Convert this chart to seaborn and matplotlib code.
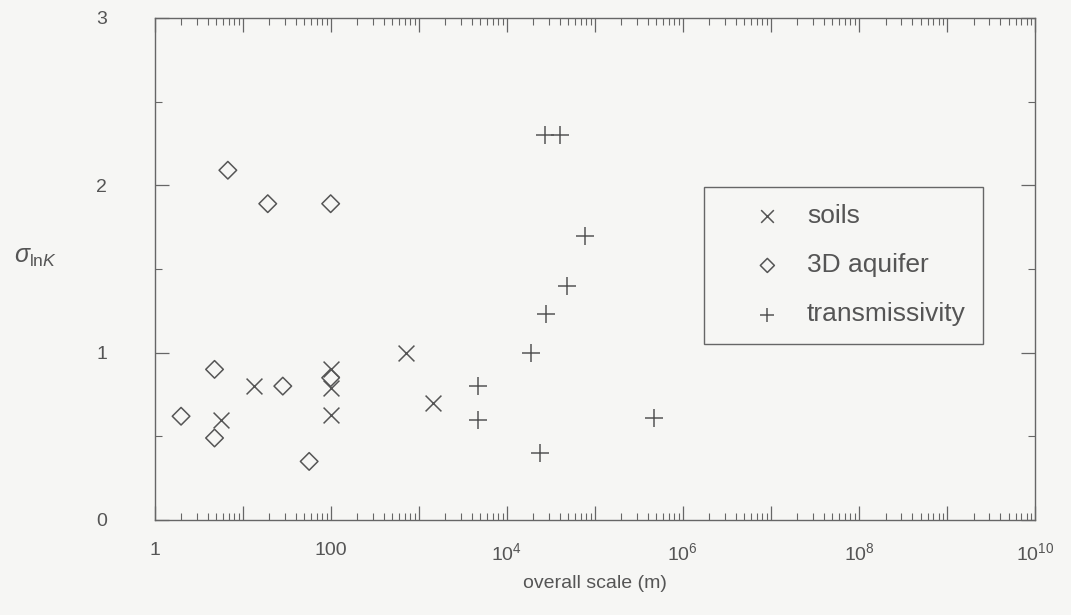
import matplotlib
matplotlib.use("Agg")
import matplotlib.pyplot as plt
import matplotlib.ticker as mticker
import seaborn as sns
import pandas as pd

# Standard deviation of ln K versus overall scale of measurement
soils_scale = [5.7, 13.5, 100, 100, 100, 720, 1470]
soils_sigma = [0.60, 0.80, 0.90, 0.79, 0.63, 1.00, 0.70]

aquifer_scale = [2.0, 4.8, 4.8, 6.8, 19.3, 28.6, 57, 100, 100]
aquifer_sigma = [0.62, 0.90, 0.49, 2.09, 1.89, 0.80, 0.35, 0.85, 1.89]

trans_scale = [4700, 4700, 18800, 23600, 28100, 48300, 27400, 39800, 76600, 4.75e5]
trans_sigma = [0.80, 0.60, 1.00, 0.40, 1.23, 1.40, 2.30, 2.30, 1.70, 0.61]

series_names = ["soils", "3D aquifer", "transmissivity"]
x_tick_values = [1, 100, 1e4, 1e6, 1e8, 1e10]
x_tick_labels = ["1", "100", r"$10^{4}$", r"$10^{6}$", r"$10^{8}$", r"$10^{10}$"]
y_tick_labels = ["0", "1", "2", "3"]

ink = "#555555"
bg = "#f6f6f4"

sns.set_theme(style="ticks")
plt.rcParams["font.family"] = ["Liberation Sans", "DejaVu Sans"]
plt.rcParams["mathtext.fontset"] = "custom"
plt.rcParams["mathtext.rm"] = "Liberation Sans"
plt.rcParams["mathtext.it"] = "Liberation Sans:italic"
plt.rcParams["mathtext.cal"] = "Liberation Sans"
plt.rcParams["text.color"] = ink
plt.rcParams["axes.labelcolor"] = ink
plt.rcParams["xtick.color"] = ink
plt.rcParams["ytick.color"] = ink

frames = {
    "soils": pd.DataFrame({"scale": soils_scale, "sigma": soils_sigma}),
    "3D aquifer": pd.DataFrame({"scale": aquifer_scale, "sigma": aquifer_sigma}),
    "transmissivity": pd.DataFrame({"scale": trans_scale, "sigma": trans_sigma}),
}

fig = plt.figure(figsize=(10.71, 6.15), dpi=100, facecolor=bg)
ax = fig.add_axes([0.1443, 0.1545, 0.8222, 0.8163])
ax.set_facecolor(bg)

sns.scatterplot(data=frames["soils"], x="scale", y="sigma", marker="x", s=130,
                color=ink, linewidth=1.1, label="soils", ax=ax, legend=False)
sns.scatterplot(data=frames["3D aquifer"], x="scale", y="sigma", marker="D", s=80,
                facecolors="none", edgecolor=ink, linewidth=1.1,
                label="3D aquifer", ax=ax, legend=False)
sns.scatterplot(data=frames["transmissivity"], x="scale", y="sigma", marker="+", s=150,
                color=ink, linewidth=1.1, label="transmissivity", ax=ax, legend=False)

ax.set_xscale("log")
ax.set_xlim(1, 1e10)
ax.set_ylim(0, 3)

# every decade gets a long tick; only some decades carry a label
label_map = dict(zip(x_tick_values, x_tick_labels))
ax.xaxis.set_major_locator(mticker.LogLocator(base=10, numticks=20))
ax.xaxis.set_major_formatter(mticker.FuncFormatter(
    lambda v, _: next((lab for val, lab in label_map.items()
                       if abs(v - val) <= 1e-9 * val), "")))
ax.xaxis.set_minor_locator(mticker.LogLocator(base=10, subs=range(2, 10), numticks=100))
ax.xaxis.set_minor_formatter(mticker.NullFormatter())

ax.yaxis.set_major_locator(mticker.MultipleLocator(1))
ax.yaxis.set_minor_locator(mticker.MultipleLocator(0.5))
ax.yaxis.set_major_formatter(mticker.FuncFormatter(
    lambda v, _: y_tick_labels[int(round(v))] if 0 <= round(v) <= 3 else ""))

for side in ["top", "right", "bottom", "left"]:
    ax.spines[side].set_visible(True)
    ax.spines[side].set_color("#666666")
    ax.spines[side].set_linewidth(1.0)

ax.tick_params(axis="both", which="major", direction="in", length=10, width=0.9,
               top=True, right=True, colors="#666666", labelcolor=ink, labelsize=14)
ax.tick_params(axis="both", which="minor", direction="in", length=5, width=0.8,
               top=True, right=True, colors="#666666")
ax.tick_params(axis="x", which="major", pad=16)
ax.tick_params(axis="y", which="major", pad=34)

ax.set_xlabel("overall scale (m)", fontsize=14, labelpad=8)
ax.set_ylabel(r"$\sigma_{\mathrm{ln}K}$", fontsize=18, rotation=0, labelpad=0)
ax.yaxis.set_label_coords(-0.135, 0.5)

leg = ax.legend(loc="upper left", bbox_to_anchor=(0.624, 0.663), borderaxespad=0,
                fontsize=19, frameon=True, fancybox=False, framealpha=1,
                borderpad=0.65, handlelength=3.5, handletextpad=-0.25,
                labelspacing=0.95, scatterpoints=1, markerscale=0.8)
leg.get_frame().set_edgecolor("#666666")
leg.get_frame().set_linewidth(1.0)
leg.get_frame().set_facecolor(bg)
for t in leg.get_texts():
    t.set_color(ink)

fig.savefig("out.png", dpi=100, facecolor=bg)
